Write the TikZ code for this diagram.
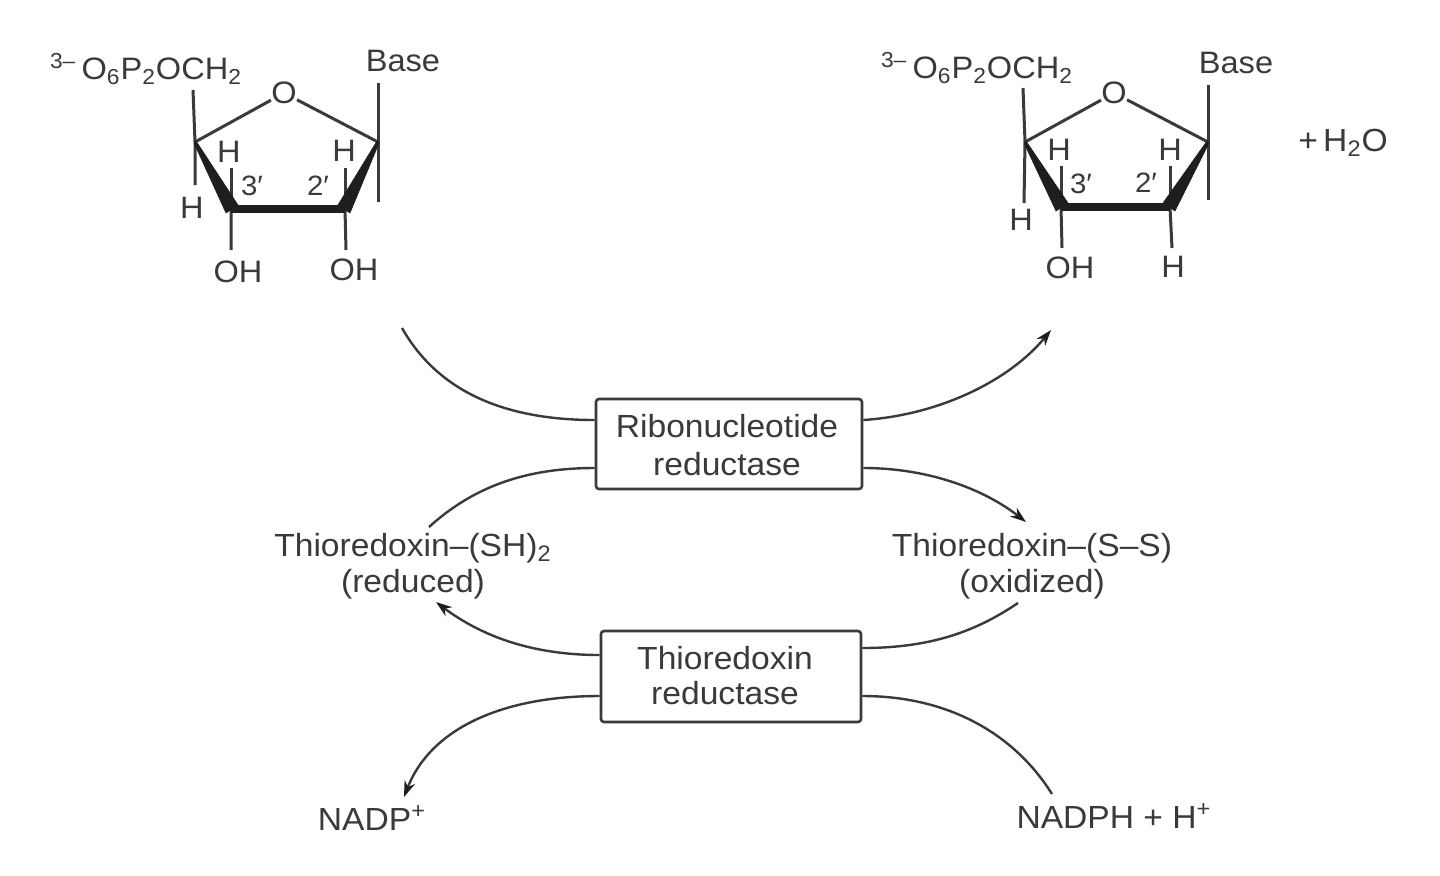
\documentclass[tikz,border=0pt]{standalone}
\usepackage{fontspec}
\setmainfont[FakeStretch=1.05]{Liberation Sans}
\usetikzlibrary{arrows.meta}
\definecolor{ink}{HTML}{3A3A3A}
\definecolor{tipink}{HTML}{1E1E1E}
\tikzset{
  x=0.5pt,y=-0.5pt,
  every node/.style={text=ink,font=\fontsize{15.5}{18}\selectfont,inner sep=0pt},
  bond/.style={draw=ink,line width=1.5pt},
  wedge/.style={fill=tipink,draw=tipink,line width=0.3pt,line join=round},
  fat/.style={draw=tipink,line width=4pt},
  flow/.style={draw=ink,line width=1.2pt},
  flowtip/.style={flow,-{Stealth[length=8pt,width=5.5pt,color=tipink]}},
  enzyme/.style={draw=ink,line width=1.3pt,rounded corners=1.5pt,align=center},
  labeltext/.style={font=\fontsize{16}{18}\selectfont},
  small/.style={font=\fontsize{14}{16}\selectfont},
}
\newcommand{\dn}[1]{\textsubscript{#1}}
\newcommand{\up}[1]{\textsuperscript{#1}}
\begin{document}
\begin{tikzpicture}
\useasboundingbox[fill=white] (0,0) rectangle (1440,875);
% left sugar
\coordinate (a4) at (195,142); \coordinate (a1) at (378,142);
\coordinate (a3) at (231,209); \coordinate (a2) at (345,209);
\node (aO) at (284,93) {O};
\node (aP) at (146,69) {\up{3–}\,O\dn{6}P\dn{2}OCH\dn{2}};
\node (aB) at (403,61) {Base};
\node (aH4) at (192,208) {H};
\node (aH3) at (229,152) {H};
\node (aH2) at (344,151) {H};
\node (aOH3) at (238,272) {OH};
\node (aOH2) at (354,270) {OH};
\node[small] (a3l) at (252,186) {3′};
\node[small] (a2l) at (318,186) {2′};
\draw[bond] (aO) -- (a4) (aO) -- (a1);
\draw[bond] (193,90) -- (a4) -- (195,185);
\draw[bond] (378,83) -- (a1) -- (378,202);
\draw[bond] (a3) -- (231,168) (a2) -- (345,168);
\draw[bond] (a3) -- (231,250) (a2) -- (346,250);
\fill[wedge] (194,143) -- (196,141) -- (238,205) -- (226,213) -- cycle;
\fill[wedge] (379,143) -- (377,141) -- (338,205) -- (350,213) -- cycle;
\draw[fat] (a3) -- (a2);
% right sugar
\coordinate (b4) at (1025,142); \coordinate (b1) at (1208,142);
\coordinate (b3) at (1061,207); \coordinate (b2) at (1170,207);
\node (bO) at (1114,93) {O};
\node (bP) at (977,68) {\up{3–}\,O\dn{6}P\dn{2}OCH\dn{2}};
\node (bB) at (1236,63) {Base};
\node (bH4) at (1021,220) {H};
\node (bH3) at (1059,150) {H};
\node (bH2) at (1170,150) {H};
\node (bOH) at (1070,268) {OH};
\node (bH) at (1173,267) {H};
\node[small] (b3l) at (1081,184) {3′};
\node[small] (b2l) at (1146,183) {2′};
\node[labeltext] (water) at (1343,143) {+\,H\dn{2}O};
\draw[bond] (bO) -- (b4) (bO) -- (b1);
\draw[bond] (1023,88) -- (b4) -- (1024,203);
\draw[bond] (1208,85) -- (b1) -- (1208,200);
\draw[bond] (b3) -- (1061,166) (b2) -- (1170,166);
\draw[bond] (b3) -- (1062,248) (b2) -- (1172,248);
\fill[wedge] (1024,143) -- (1026,141) -- (1068,203) -- (1056,211) -- cycle;
\fill[wedge] (1209,143) -- (1207,141) -- (1163,203) -- (1175,211) -- cycle;
\draw[fat] (b3) -- (b2);
% enzymes
\node[enzyme,labeltext,minimum width=133pt,minimum height=45pt,font=\fontsize{16}{19}\selectfont,text depth=0pt] (rr) at (729,444) {\raisebox{-1pt}{Ribonucleotide}\hspace*{2pt}\\\raisebox{-1pt}{reductase}\hspace*{2pt}};
\node[enzyme,labeltext,minimum width=130pt,minimum height=45.5pt,font=\fontsize{16}{17.5}\selectfont] (tr) at (731,676.5) {\raisebox{1pt}{Thioredoxin}\hspace*{6pt}\\\raisebox{1pt}{reductase}\hspace*{6pt}};
% labels
\node[labeltext,align=center] (tsh) at (413,566) {Thioredoxin–(SH)\dn{2}\\(reduced)};
\node[labeltext,align=center] (tss) at (1032,566) {Thioredoxin–(S–S)\\(oxidized)};
\node[labeltext] (nadp) at (372,818) {NADP\up{+}};
\node[labeltext] (nadph) at (1114,816) {NADPH + H\up{+}};
\coordinate (c1) at (402,328); \coordinate (c2) at (1051,330);
\coordinate (c3) at (429,527); \coordinate (c4) at (1026,522);
\coordinate (c5) at (1018,603); \coordinate (c6) at (436,602);
\coordinate (c7) at (404,797); \coordinate (c8) at (1052,794);
\draw[flow] (c1) .. controls (440,395) and (510,420) .. (rr.west |- 0,420);
\draw[flowtip] (rr.east |- 0,420) .. controls (940,415) and (1010,380) .. (c2);
\draw[flow] (rr.west |- 0,468) .. controls (520,468) and (470,490) .. (c3);
\draw[flowtip] (rr.east |- 0,468) .. controls (930,468) and (985,490) .. (c4);
\draw[flow] (c5) .. controls (975,632) and (930,648) .. (tr.east |- 0,648);
\draw[flowtip] (tr.west |- 0,655) .. controls (530,655) and (480,635) .. (c6);
\draw[flowtip] (tr.west |- 0,696) .. controls (500,696) and (430,730) .. (c7);
\draw[flow] (tr.east |- 0,696) .. controls (950,696) and (1015,735) .. (c8);
\end{tikzpicture}
\end{document}
